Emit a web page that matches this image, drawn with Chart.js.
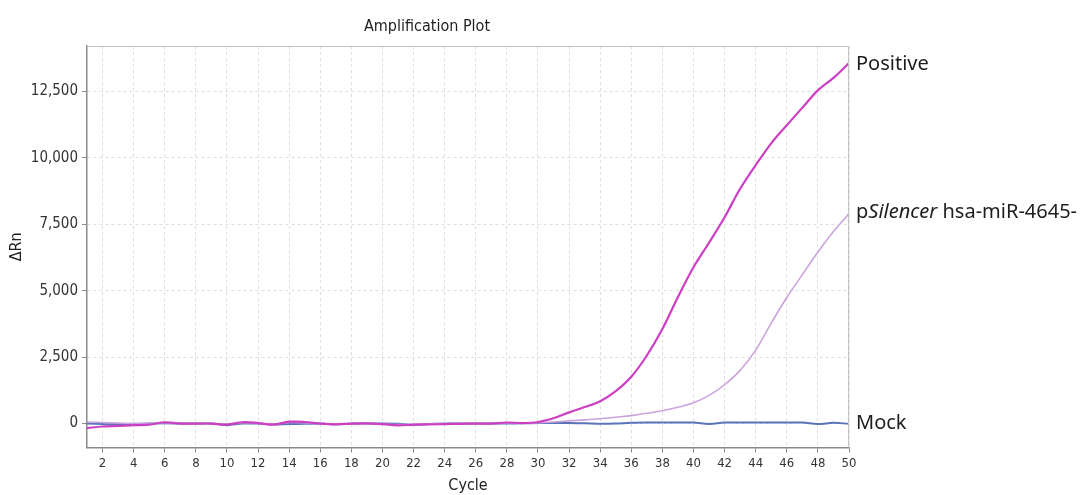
<!DOCTYPE html>
<html>
<head>
<meta charset="utf-8">
<script src="https://cdn.jsdelivr.net/npm/chart.js@4.4.1/dist/chart.umd.min.js"></script>
<style>
  html, body { margin: 0; padding: 0; background: #ffffff; }
  #wrap { width: 1088px; height: 495px; position: relative; }
</style>
</head>
<body>
<div id="wrap"><canvas id="c" width="1088" height="495"></canvas></div>
<script>
// ---- data ----
const chartTitle = 'Amplification Plot';
const xAxisTitle = 'Cycle';
const yAxisTitle = 'ΔRn';
const cycles = [1,2,3,4,5,6,7,8,9,10,11,12,13,14,15,16,17,18,19,20,21,22,23,24,25,26,27,28,29,30,31,32,33,34,35,36,37,38,39,40,41,42,43,44,45,46,47,48,49,50];
const xTickValues = [2,4,6,8,10,12,14,16,18,20,22,24,26,28,30,32,34,36,38,40,42,44,46,48,50];
const yTickValues = [0,2500,5000,7500,10000,12500];

const positiveValues = [-170,-110,-90,-60,-40,50,0,0,0,-40,50,20,-40,70,60,0,-30,0,10,-20,-70,-40,-30,-20,-10,0,0,40,20,60,200,420,620,840,1220,1760,2560,3560,4760,5880,6800,7760,8830,9720,10540,11220,11880,12530,13000,13560];
const silencerValues = [60,40,20,0,0,30,10,0,0,-20,30,10,-20,40,30,0,-10,0,0,-20,-40,-30,-10,0,0,0,0,20,20,30,60,100,140,180,240,300,390,480,610,780,1060,1460,2000,2760,3780,4740,5600,6450,7220,7900];
const mockValues = [0,-20,-30,-10,0,10,0,0,0,-60,0,0,-30,-20,-10,0,-30,0,0,0,-10,-50,-20,0,0,0,0,0,10,20,20,20,10,-10,0,30,40,40,40,40,-20,40,40,40,40,40,40,-20,30,-10];

// series end labels: [text, italic?] parts
const positiveLabel = [['Positive', false]];
const silencerLabel = [['p', false], ['Silencer', true], [' hsa-miR-4645-', false]];
const mockLabel = [['Mock', false]];

const toPoints = vals => cycles.map((c, i) => ({x: c, y: vals[i]}));

const narrow = "'Liberation Sans Narrow', 'Arial Narrow', 'DejaVu Sans Condensed', 'Liberation Sans', Arial, sans-serif";
const labelFont = "'Noto Sans', 'Open Sans', sans-serif";

const endLabels = {
  id: 'endLabels',
  afterDatasetsDraw(chart) {
    const ctx = chart.ctx;
    const area = chart.chartArea;
    ctx.save();
    // frame top & right
    ctx.strokeStyle = '#c4c4c4';
    ctx.lineWidth = 1;
    ctx.beginPath();
    ctx.moveTo(area.left, area.top + 0.5);
    ctx.lineTo(area.right - 0.5, area.top + 0.5);
    ctx.lineTo(area.right - 0.5, area.bottom);
    ctx.stroke();
    ctx.fillStyle = '#1e1e1e';
    ctx.textBaseline = 'middle';
    ctx.textAlign = 'left';
    chart.data.datasets.forEach((ds, i) => {
      const meta = chart.getDatasetMeta(i);
      const last = meta.data[meta.data.length - 1];
      let x = area.right + 7;
      const y = last.y + (ds.labelDy || 0);
      ds.endLabel.forEach(([t, it]) => {
        ctx.font = (it ? 'italic ' : '') + '20px ' + labelFont;
        ctx.fillText(t, x, y);
        x += ctx.measureText(t).width;
      });
    });
    // chart title
    ctx.font = '16px ' + narrow;
    ctx.textAlign = 'center';
    ctx.fillStyle = '#1e1e1e';
    ctx.fillText(chartTitle, 427, 27);
    ctx.restore();
  }
};

new Chart(document.getElementById('c'), {
  type: 'line',
  data: {
    datasets: [
      { label: 'Positive', data: toPoints(positiveValues), borderColor: '#cc3fc4', borderWidth: 2.2, endLabel: positiveLabel, labelDy: 1 },
      { label: 'pSilencer', data: toPoints(silencerValues), borderColor: '#cba3dd', borderWidth: 1.6, endLabel: silencerLabel, labelDy: -1 },
      { label: 'Mock', data: toPoints(mockValues), borderColor: '#5a74b9', borderWidth: 2, endLabel: mockLabel, labelDy: -1 }
    ]
  },
  options: {
    responsive: false,
    animation: false,
    devicePixelRatio: 1,
    layout: { padding: { top: 46, right: 239, left: 0, bottom: 0 } },
    elements: { point: { radius: 0 }, line: { tension: 0.35, fill: false } },
    plugins: { legend: { display: false }, tooltip: { enabled: false }, title: { display: false } },
    scales: {
      x: {
        type: 'linear',
        min: 1, max: 50,
        afterBuildTicks: s => { s.ticks = xTickValues.map(v => ({value: v})); },
        afterFit: s => { s.height = 47.5; },
        grid: { color: '#dedede', tickColor: '#8a8a8a', tickLength: 5, drawTicks: true, tickBorderDash: [] },
        border: { color: '#8a8a8a', width: 1.5, dash: [3, 3] },
        ticks: { color: '#333', padding: 3, maxRotation: 0, autoSkip: false, font: { family: narrow, size: 13 } },
        title: { display: true, text: xAxisTitle, color: '#222', padding: { top: 0, bottom: 0 }, font: { family: narrow, size: 16 } }
      },
      y: {
        type: 'linear',
        min: -900, max: 14200,
        afterBuildTicks: s => { s.ticks = yTickValues.map(v => ({value: v})); },
        afterFit: s => { s.width = 87; },
        grid: { color: '#dedede', tickColor: '#8a8a8a', tickLength: 5, drawTicks: true, tickBorderDash: [] },
        border: { color: '#8a8a8a', width: 1.5, dash: [3, 3] },
        ticks: { color: '#333', padding: 4, font: { family: narrow, size: 15 }, callback: v => v.toLocaleString('en-US') },
        title: { display: true, text: yAxisTitle, color: '#222', padding: { top: 7, bottom: 0 }, font: { family: narrow, size: 16 } }
      }
    }
  },
  plugins: [endLabels]
});
</script>
</body>
</html>
